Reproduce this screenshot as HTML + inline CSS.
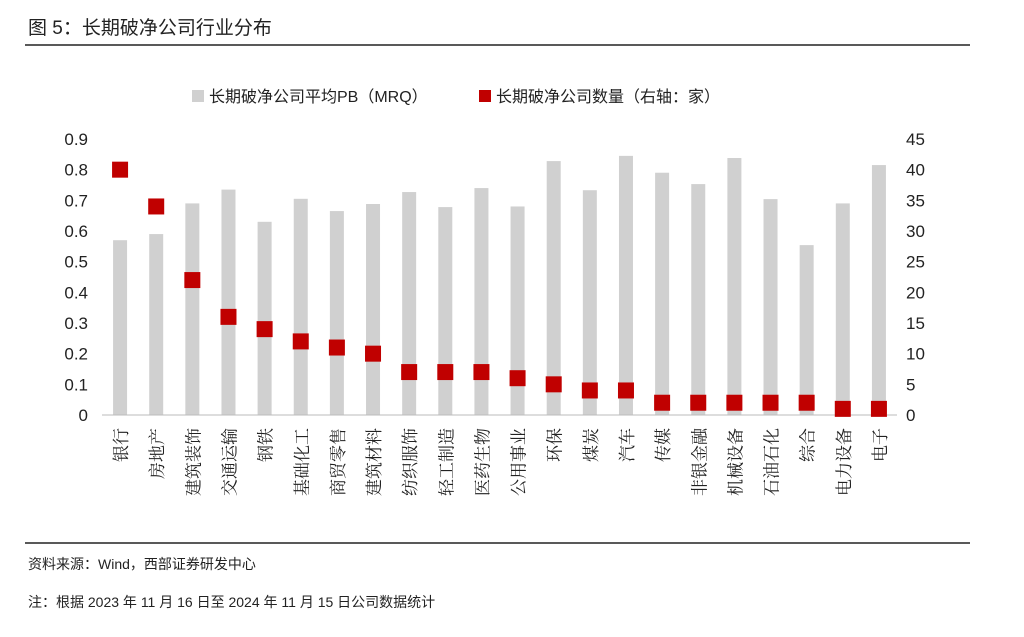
<!DOCTYPE html>
<html><head><meta charset="utf-8">
<style>
body{margin:0;background:#fff;width:1024px;height:632px;overflow:hidden;font-family:"Liberation Sans","Noto Sans CJK SC",sans-serif;}
svg text{font-family:"Liberation Sans","Noto Sans CJK SC",sans-serif;}
svg text.cat{font-family:"Liberation Serif","Noto Serif CJK SC",serif;}
</style></head>
<body>
<svg id="chart" width="1024" height="632" xmlns="http://www.w3.org/2000/svg">
<text x="28" y="34" font-size="19" fill="#222">图 5：长期破净公司行业分布</text>
<line x1="25" y1="45" x2="970" y2="45" stroke="#222" stroke-width="1.5"/>
<g>
<rect x="192" y="90" width="12" height="12" fill="#d0d0d0"/>
<text x="209" y="102" font-size="16" fill="#222">长期破净公司平均PB（MRQ）</text>
<rect x="479" y="90" width="12" height="12" fill="#c00000"/>
<text x="496" y="102" font-size="16" fill="#222">长期破净公司数量（右轴：家）</text>
</g>
<g id="plot"></g>
<line x1="25" y1="543" x2="970" y2="543" stroke="#222" stroke-width="1.5"/>
<text x="28" y="569" font-size="14" fill="#222">资料来源：Wind，西部证券研发中心</text>
<text x="28" y="607" font-size="14" fill="#222">注：根据 2023 年 11 月 16 日至 2024 年 11 月 15 日公司数据统计</text>
</svg>
<script>
const categories=["银行","房地产","建筑装饰","交通运输","钢铁","基础化工","商贸零售","建筑材料","纺织服饰","轻工制造","医药生物","公用事业","环保","煤炭","汽车","传媒","非银金融","机械设备","石油石化","综合","电力设备","电子"];
const pbValues=[0.57,0.59,0.69,0.735,0.63,0.705,0.665,0.688,0.727,0.678,0.74,0.68,0.828,0.733,0.845,0.79,0.753,0.838,0.704,0.554,0.69,0.815];
const countValues=[40,34,22,16,14,12,11,10,7,7,7,6,5,4,4,2,2,2,2,2,1,1];
const leftTicks=["0","0.1","0.2","0.3","0.4","0.5","0.6","0.7","0.8","0.9"];
const rightTicks=["0","5","10","15","20","25","30","35","40","45"];
const NS="http://www.w3.org/2000/svg";
const g=document.getElementById('plot');
const x0=102,x1=897,yb=415,yt=139;
const step=(x1-x0)/categories.length;
const xc=i=>x0+step*(i+0.5);
const yL=v=>yb-(v/0.9)*(yb-yt);
const yR=v=>yb-(v/45)*(yb-yt);
function mk(t,a){const e=document.createElementNS(NS,t);for(const k in a)e.setAttribute(k,a[k]);g.appendChild(e);return e;}
leftTicks.forEach((t,i)=>{const e=mk('text',{x:88,y:yL(+t)+6,'font-size':17,'text-anchor':'end',fill:'#222'});e.textContent=t;

});
rightTicks.forEach((t,i)=>{const e=mk('text',{x:906,y:yR(+t)+6,'font-size':17,fill:'#222'});e.textContent=t;

});
pbValues.forEach((v,i)=>{const e=mk('rect',{x:xc(i)-7,y:yL(v),width:14,height:yb-yL(v),fill:'#d0d0d0'});

});
const ax=mk('line',{x1:x0,y1:yb,x2:x1,y2:yb,stroke:'#bbb','stroke-width':1});


countValues.forEach((v,i)=>{const e=mk('rect',{x:xc(i)-8,y:yR(v)-8,width:16,height:16,fill:'#c00000'});

});
categories.forEach((c,i)=>{const cx=xc(i)+7,cy=428;
const e=mk('text',{x:cx,y:cy,'font-size':17,fill:'#222','text-anchor':'end','class':'cat',transform:`rotate(-90 ${cx} ${cy})`});e.textContent=c;

});
</script>
</body></html>
